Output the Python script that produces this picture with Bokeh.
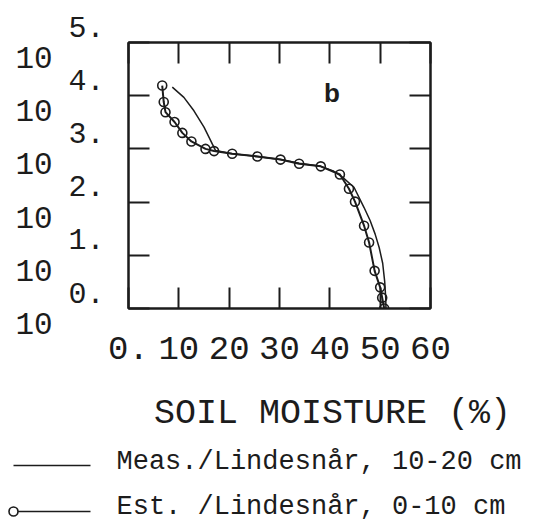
from bokeh.plotting import figure
from bokeh.models import FixedTicker, LinearAxis, LogAxis, Label, Range1d
from bokeh.layouts import column, row
from bokeh.core.properties import value
from bokeh.embed import file_html
from bokeh.resources import INLINE

# ---- data -------------------------------------------------------------
moisture_ticks = [0, 10, 20, 30, 40, 50, 60]
moisture_tick_labels = ["0.", "10", "20", "30", "40", "50", "60"]
suction_ticks = [1, 10, 100, 1000, 10000, 100000]
suction_exponents = ["0.", "1.", "2.", "3.", "4.", "5."]

# measured retention curve, 10-20 cm (soil moisture %, suction)
meas_moisture = [8.7, 11.0, 13.0, 15.0, 16.3, 17.3, 20.6, 25.6, 30.2, 33.9,
                 38.2, 40.8, 42.5, 44.8, 46.8, 48.0, 49.0, 49.8, 50.5, 50.9,
                 51.1, 51.15]
meas_suction = [14500, 9300, 5200, 2570, 1450, 930, 810, 720, 630, 540,
                470, 380, 295, 190, 79, 45, 25, 14, 7.1, 3.2, 1.6, 1.0]

# estimated retention curve, 0-10 cm
est_moisture = [6.7, 7.0, 7.35, 9.15, 10.7, 12.5, 15.3, 17.0, 20.6, 25.6,
                30.2, 33.9, 38.2, 42.0, 43.8, 45.0, 46.8, 47.8, 48.9, 50.0,
                50.4, 50.8]
est_suction = [15500, 7600, 4900, 3200, 2000, 1380, 1000, 910, 810, 720,
               630, 525, 470, 330, 178, 102, 36, 17.4, 5.1, 2.5, 1.6, 1.0]

legend_labels = ["Meas./Lindesnår, 10-20 cm", "Est. /Lindesnår, 0-10 cm"]
x_title = "SOIL MOISTURE (%)"
panel_tag = "b"

# ---- geometry and styling ---------------------------------------------
FONT = "Liberation Mono"
INK = "#1c1c1c"
W = 544
H_TOP = 380
H_BOT = 140
GUTTER = 106                  # width of the strip holding the y labels
FRAME_L = 128                 # frame left edge on the page
FRAME_T, FRAME_B = 42, 308    # frame top / bottom inside the upper row
FRAME_W = 302
Y_LO, Y_HI = 1, 1e5


def clean(fig):
    fig.frame_align = False
    fig.grid.visible = False
    fig.background_fill_color = "white"
    fig.border_fill_color = "white"


# ---- main plot ----------------------------------------------------------
p_left = FRAME_L - GUTTER
p = figure(width=W - GUTTER, height=H_TOP,
           x_range=Range1d(0, 60), y_range=Range1d(Y_LO, Y_HI),
           y_axis_type="log",
           output_backend="svg", toolbar_location=None,
           min_border_left=p_left,
           min_border_right=W - GUTTER - FRAME_W - p_left,
           min_border_top=FRAME_T, min_border_bottom=H_TOP - FRAME_B)
clean(p)
p.outline_line_color = INK
p.outline_line_width = 2


def style_axis(ax, ticks, show_labels):
    ax.ticker = FixedTicker(ticks=ticks)
    ax.major_tick_in = 21
    ax.major_tick_out = 0
    ax.major_tick_line_width = 2
    ax.major_tick_line_color = INK
    ax.minor_tick_line_color = None
    ax.axis_line_color = INK
    ax.axis_line_width = 2
    if not show_labels:
        ax.major_label_text_color = None
        ax.major_label_text_font_size = "0px"
        ax.major_label_standoff = 0


xb = p.xaxis[0]
style_axis(xb, moisture_ticks, True)
xb.major_label_overrides = dict(zip(moisture_ticks, moisture_tick_labels))
xb.major_label_text_font = FONT
xb.major_label_text_font_size = "34px"
xb.major_label_text_color = INK
xb.major_label_standoff = 28

style_axis(p.yaxis[0], suction_ticks, False)

xt = LinearAxis()
style_axis(xt, moisture_ticks, False)
p.add_layout(xt, "above")

yr = LogAxis()
style_axis(yr, suction_ticks, False)
p.add_layout(yr, "right")

p.line(meas_moisture, meas_suction, line_color=INK, line_width=1.5)
p.line(est_moisture, est_suction, line_color=INK, line_width=2)
p.scatter(est_moisture, est_suction, marker="circle", size=9,
          fill_color=None, line_color=INK, line_width=1.6)

p.add_layout(Label(x=40.4, y=10 ** 4.05, text=panel_tag,
                   text_font="Liberation Sans", text_font_style="bold",
                   text_font_size="26px", text_align="center",
                   text_baseline="alphabetic", text_color=INK))

# ---- y tick label strip: same log scale, extended over the full height --
px_per_decade = (FRAME_B - FRAME_T) / 5.0
strip_hi = Y_HI * 10 ** (FRAME_T / px_per_decade)
strip_lo = Y_LO / 10 ** ((H_TOP - FRAME_B) / px_per_decade)
s = figure(width=GUTTER, height=H_TOP,
           x_range=Range1d(0, GUTTER), y_range=Range1d(strip_lo, strip_hi),
           y_axis_type="log", output_backend="svg", toolbar_location=None,
           min_border=0)
clean(s)
s.axis.visible = False
s.outline_line_color = None

n = len(suction_ticks)
s.text(x=[15] * n, y=suction_ticks, text=["10"] * n, y_offset=15,
       text_font=value(FONT), text_font_size="31px", text_align="left",
       text_baseline="alphabetic", text_color=INK)
s.text(x=[68] * n, y=suction_ticks, text=suction_exponents, y_offset=-16,
       text_font=value(FONT), text_font_size="30px", text_align="left",
       text_baseline="alphabetic", text_color=INK)

# ---- axis title and legend panel ---------------------------------------
q = figure(width=W, height=H_BOT,
           x_range=Range1d(0, W), y_range=Range1d(H_BOT, 0),
           output_backend="svg", toolbar_location=None, min_border=0)
clean(q)
q.axis.visible = False
q.outline_line_color = None

q.text(x=[332], y=[33], text=[x_title], text_font=value(FONT),
       text_font_size="35px", text_align="center",
       text_baseline="alphabetic", text_color=INK)

q.line(x=[13, 90], y=[85, 85], line_color=INK, line_width=1.5)
q.line(x=[13, 90], y=[131, 131], line_color=INK, line_width=1.5)
q.scatter(x=[13], y=[131], marker="circle", size=9, fill_color="white",
          line_color=INK, line_width=1.6)
q.text(x=[116, 116], y=[81, 126], text=legend_labels, text_font=value(FONT),
       text_font_size="27px", text_align="left",
       text_baseline="alphabetic", text_color=INK)

layout = column(row(s, p, spacing=0), q, spacing=0)
open("out.html", "w").write(file_html(layout, INLINE))
